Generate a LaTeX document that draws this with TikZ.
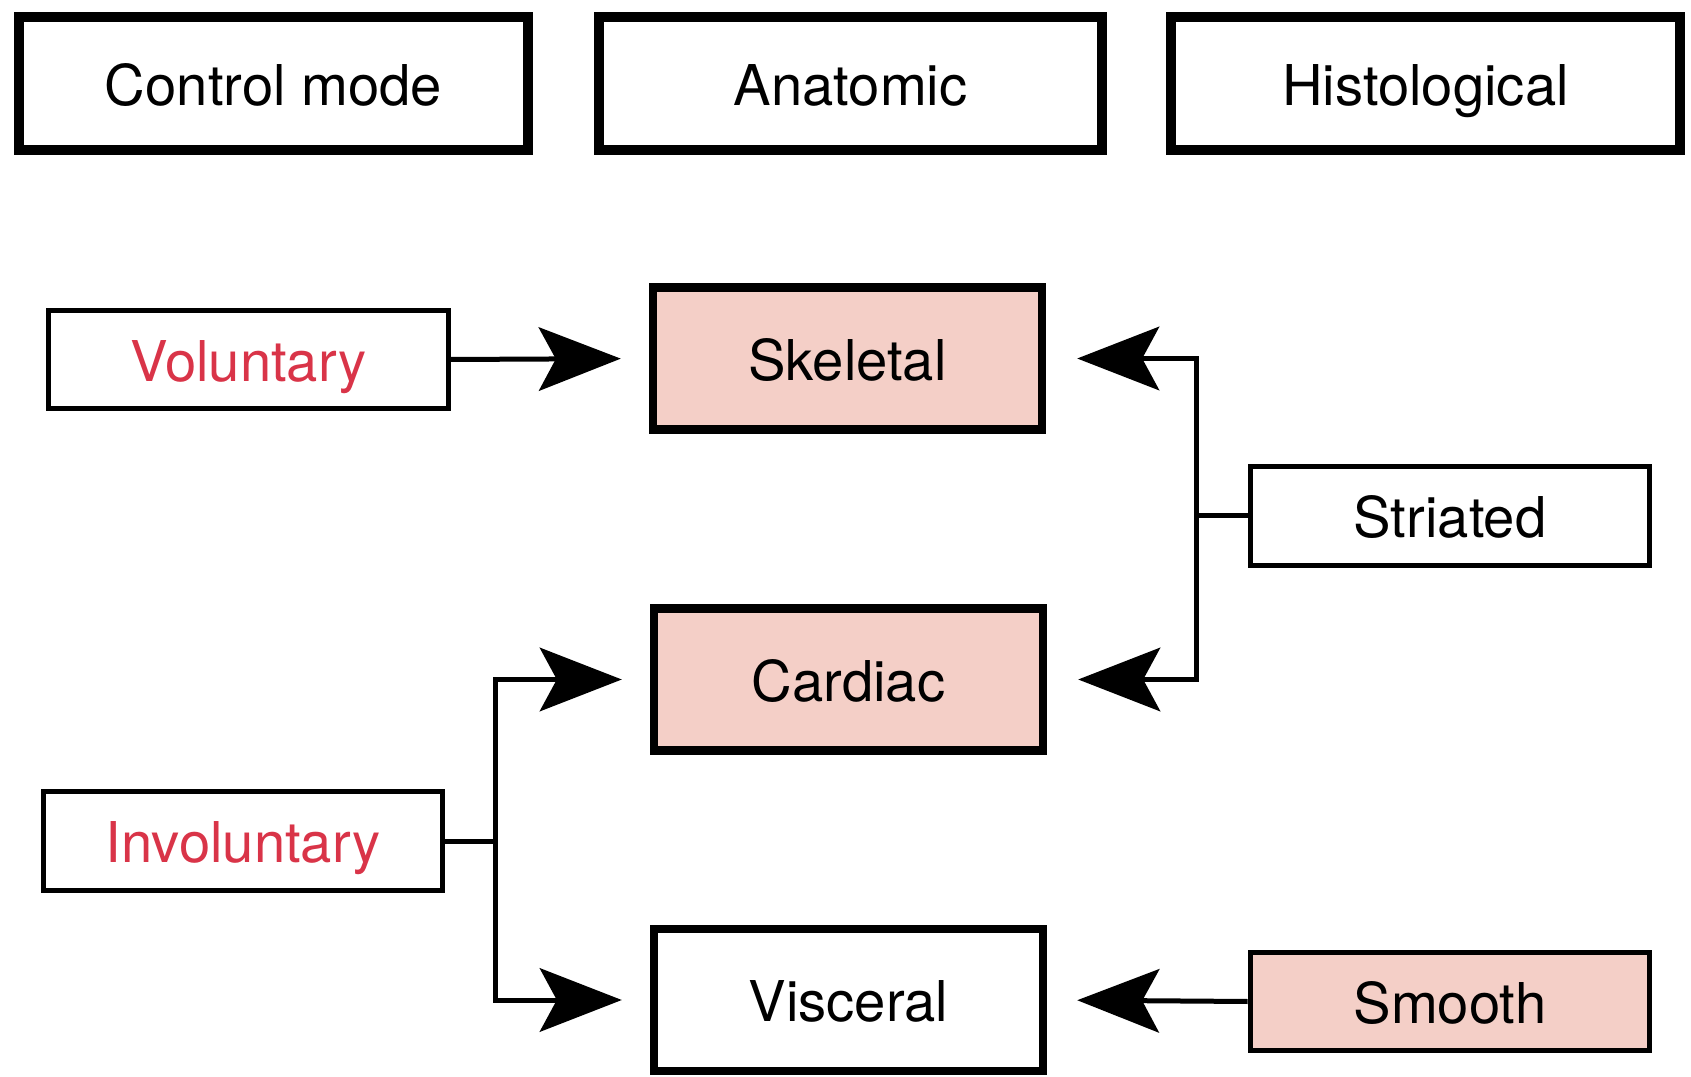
\documentclass[tikz,border=0pt]{standalone}
\usepackage{fontspec}
\setmainfont{TeX Gyre Heros}
\usetikzlibrary{arrows.meta}
\definecolor{musclepink}{RGB}{244,207,199}
\definecolor{modered}{RGB}{217,52,72}
\tikzset{
    boxtext/.style={font=\fontsize{32}{38}\selectfont,text height=27pt,text depth=2pt},
    headbox/.style={boxtext,draw,line width=0.2cm,minimum width=10.2cm,minimum height=2.68cm},
    typebox/.style={boxtext,draw,line width=0.17cm,minimum width=7.78cm,minimum height=2.84cm},
    smallbox/.style={boxtext,draw,line width=0.1cm,minimum width=8cm,minimum height=1.98cm},
    bigarrow/.style={line width=0.1cm,-{Stealth[length=1.64cm,width=1.27cm,inset=0.34cm]}},
}

\begin{document}
\begin{tikzpicture}[x=0.02cm,y=-0.02cm]
            \useasboundingbox (0,0) rectangle (1691,1077);
            \node[headbox] (ctrl) at (273.5,83.5){Control mode};
            \node[headbox,minimum width=10.08cm] (anat) at (850.5,83.5){Anatomic};
            \node[headbox] (hist) at (1425.5,83.5){Histological};
            \node[smallbox,text=modered] (vol) at (248.5,359.5){Voluntary};
            \node[smallbox,text=modered] (invol) at (243,841){Involuntary};
            \node[typebox,fill=musclepink] (skel) at (847.5,358.5){Skeletal};
            \node[typebox,fill=musclepink] (card) at (848.5,679.5){Cardiac};
            \node[typebox] (visc) at (848.5,1000){Visceral};
            \node[smallbox] (stri) at (1450,516){Striated};
            \node[smallbox,fill=musclepink] (smoo) at (1450,1001.5){Smooth};
            \draw[bigarrow,shorten >=0.56cm] (vol.east)--(skel.west);
            \draw[line width=0.1cm] (invol.east)--++(50,0) coordinate (lj);
            \draw[bigarrow,shorten >=0.56cm] (lj)|-(card.west);
            \draw[bigarrow,shorten >=0.56cm] (lj)|-(visc.west);
            \draw[line width=0.1cm] (stri.west)--++(-51,0) coordinate (rj);
            \draw[bigarrow,shorten >=0.62cm] (rj)|-(skel.east);
            \draw[bigarrow,shorten >=0.62cm] (rj)|-(card.east);
            \draw[bigarrow,shorten >=0.6cm] (smoo.west)--(visc.east);
        \end{tikzpicture}
\end{document}
